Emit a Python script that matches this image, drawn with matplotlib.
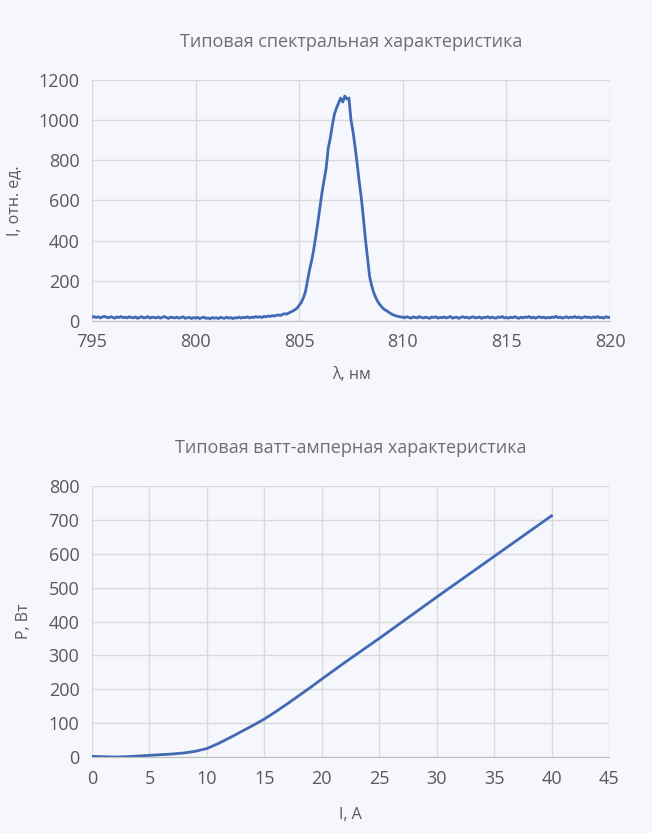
import numpy as np
import matplotlib.pyplot as plt

plt.rcParams['font.family'] = ['Open Sans', 'DejaVu Sans']

# spectrum, 0.1 nm step from 795 to 820 nm
wl_start, wl_step = 795.0, 0.1
intensity = [
    19, 22, 17, 21, 15, 20, 23, 18, 16, 21,
    18, 14, 20, 17, 22, 16, 19, 15, 21, 17,
    16, 20, 13, 18, 21, 15, 17, 22, 14, 19,
    17, 15, 20, 14, 18, 22, 16, 13, 19, 17,
    15, 19, 14, 17, 21, 13, 16, 18, 12, 17,
    14, 18, 12, 16, 19, 13, 15, 11, 17, 14,
    16, 12, 18, 15, 13, 19, 14, 17, 12, 16,
    15, 19, 14, 18, 16, 21, 15, 19, 17, 22,
    18, 21, 17, 23, 20, 25, 22, 27, 24, 28,
    30, 27, 33, 36, 34, 40, 45, 50, 56, 64,
    78, 92, 115, 145, 200, 255, 300, 355, 420, 490,
    565, 640, 700, 760, 860, 910, 975, 1030, 1060, 1085,
    1110, 1090, 1120, 1105, 1110, 1000, 940, 865, 780, 690,
    610, 510, 403, 310, 220, 175, 140, 115, 95, 80,
    68, 58, 52, 45, 38, 32, 28, 24, 22, 20,
    19, 16, 21, 17, 14, 20, 18, 15, 22, 17,
    15, 19, 16, 13, 20, 17, 21, 14, 18, 16,
    20, 15, 18, 22, 14, 17, 19, 13, 18, 21,
    16, 19, 14, 18, 21, 15, 17, 20, 13, 18,
    17, 21, 15, 19, 16, 14, 20, 17, 22, 15,
    18, 14, 19, 16, 21, 17, 13, 19, 15, 20,
    17, 22, 15, 19, 14, 18, 21, 16, 19, 14,
    18, 15, 20, 17, 23, 16, 19, 14, 18, 21,
    15, 19, 17, 22, 16, 20, 14, 18, 21, 17,
    19, 15, 20, 17, 22, 16, 18, 14, 21, 18,
    17,
]
wavelength = wl_start + wl_step * np.arange(len(intensity))

# power vs current
current = [0, 1, 2, 3, 4, 5, 6, 7, 8, 9, 10, 11, 12, 13, 14, 15, 16, 17, 18, 19, 20, 22, 25, 30, 35, 40]
power = [2, 1, 0, 1, 3, 5, 7, 9, 12, 17, 25, 40, 57, 75, 93, 112, 134, 157, 181, 205, 230, 279, 350, 472, 592, 712]

bg = '#f5f7fc'
line_c = '#4169b4'
grid_c = '#d9d9d9'
txt_c = '#595959'
title_c = '#6e6e6e'

fig = plt.figure(figsize=(6.52, 8.33), dpi=100, facecolor=bg)
ax1 = fig.add_axes([0.1411, 0.6147, 0.7945, 0.2893])
ax2 = fig.add_axes([0.1411, 0.0912, 0.7929, 0.3254])

def style(ax):
    ax.set_facecolor(bg)
    for s in ['top', 'right', 'left']:
        ax.spines[s].set_visible(False)
    ax.spines['bottom'].set_color('#bfbfbf')
    ax.grid(True, color=grid_c, linewidth=1)
    ax.set_axisbelow(True)
    ax.tick_params(length=0, labelsize=13, colors=txt_c, pad=9)

ax1.plot(wavelength, intensity, color=line_c, linewidth=2)
ax1.set_xlim(795, 820)
ax1.set_ylim(0, 1200)
ax1.set_xticks(np.arange(795, 821, 5))
ax1.set_yticks(np.arange(0, 1201, 200))
style(ax1)
ax1.set_title('Типовая спектральная характеристика', color=title_c, fontsize=13, pad=24)
ax1.set_xlabel('λ, нм', color=txt_c, fontsize=11.5, labelpad=11)
ax1.set_ylabel('I, отн. ед.', color=txt_c, fontsize=11.5, labelpad=12)

ax2.plot(current, power, color=line_c, linewidth=2)
ax2.set_xlim(0, 45)
ax2.set_ylim(0, 800)
ax2.set_xticks(np.arange(0, 46, 5))
ax2.set_yticks(np.arange(0, 801, 100))
style(ax2)
ax2.set_title('Типовая ватт-амперная характеристика', color=title_c, fontsize=13, pad=24)
ax2.set_xlabel('I, A', color=txt_c, fontsize=11.5, labelpad=14)
ax2.set_ylabel('P, Вт', color=txt_c, fontsize=11.5, labelpad=12)

fig.savefig('out.png', dpi=100, facecolor=bg)
